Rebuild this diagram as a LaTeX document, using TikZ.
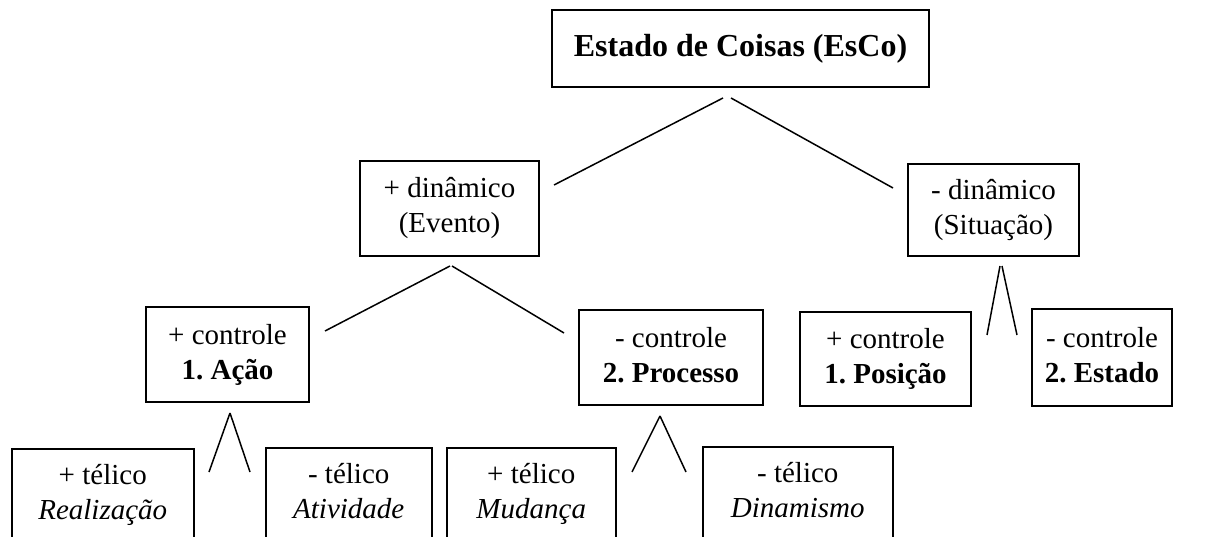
\documentclass[tikz,border=0pt]{standalone}
\usepackage{fontspec}
\setmainfont{Liberation Serif}
\frenchspacing
\begin{document}
\begin{tikzpicture}[x=1pt,y=-1pt,
  box/.style={draw, line width=1.5pt, inner sep=0pt, align=center,
    font=\fontsize{29}{35}\selectfont\frenchspacing},
  link/.style={line width=1.5pt}]
\useasboundingbox (0,0) rectangle (1215,537);
\clip (0,0) rectangle (1215,537);
% level 0
\node[box, minimum width=377pt, minimum height=77pt, font=\fontsize{32}{36}\selectfont\bfseries]
  (esco) at (740.5,48.5) {Estado de Coisas (EsCo)};
% level 1
\node[box, minimum width=179pt, minimum height=95pt] (evento) at (449.5,208.5)
  {+ dinâmico\strut\\(Evento)\strut};
\node[box, minimum width=171pt, minimum height=92pt] (situacao) at (993.5,210)
  {- dinâmico\strut\\(Situação)\strut};
% level 2
\node[box, minimum width=163pt, minimum height=95pt] (acao) at (227.5,354.5)
  {+ controle\strut\\\textbf{1. Ação}\strut};
\node[box, minimum width=184pt, minimum height=95pt] (processo) at (671,357.5)
  {- controle\strut\\\textbf{2. Processo}\strut};
\node[box, minimum width=171pt, minimum height=94pt] (posicao) at (885.5,359)
  {+ controle\strut\\\textbf{1. Posição}\strut};
\node[box, minimum width=140pt, minimum height=97pt] (estado) at (1102,357.5)
  {- controle\strut\\\textbf{2. Estado}\strut};
% level 3 (cut off at the bottom)
\node[box, anchor=north west, minimum width=182pt, minimum height=93pt] (realizacao) at (11,448)
  {+ télico\strut\\\textit{Realização}\strut};
\node[box, anchor=north west, minimum width=166pt, minimum height=93pt] (atividade) at (265,447)
  {- télico\strut\\\textit{Atividade}\strut};
\node[box, anchor=north west, minimum width=169pt, minimum height=93pt] (mudanca) at (446,447)
  {+ télico\strut\\\textit{Mudança}\strut};
\node[box, anchor=north west, minimum width=190pt, minimum height=93pt] (dinamismo) at (702,446)
  {- télico\strut\\\textit{Dinamismo}\strut};
% connector ends
\coordinate (esco-l) at (723,98);
\coordinate (esco-r) at (731,98);
\coordinate (evento-in) at (554,185);
\coordinate (situacao-in) at (893,188);
\coordinate (evento-l) at (450,266);
\coordinate (evento-r) at (452,266);
\coordinate (acao-in) at (325,331);
\coordinate (processo-in) at (564,333);
\coordinate (situacao-l) at (1000,266);
\coordinate (situacao-r) at (1002,266);
\coordinate (posicao-in) at (987,335);
\coordinate (estado-in) at (1017,335);
\coordinate (acao-top) at (230,413);
\coordinate (realizacao-in) at (209,472);
\coordinate (atividade-in) at (250,472);
\coordinate (processo-top) at (660,416);
\coordinate (mudanca-in) at (632,472);
\coordinate (dinamismo-in) at (686,472);
% connectors
\draw[link] (esco-l) -- (evento-in);
\draw[link] (esco-r) -- (situacao-in);
\draw[link] (evento-l) -- (acao-in);
\draw[link] (evento-r) -- (processo-in);
\draw[link] (situacao-l) -- (posicao-in);
\draw[link] (situacao-r) -- (estado-in);
\draw[link] (acao-top) -- (realizacao-in);
\draw[link] (acao-top) -- (atividade-in);
\draw[link] (processo-top) -- (mudanca-in);
\draw[link] (processo-top) -- (dinamismo-in);
\end{tikzpicture}
\end{document}
